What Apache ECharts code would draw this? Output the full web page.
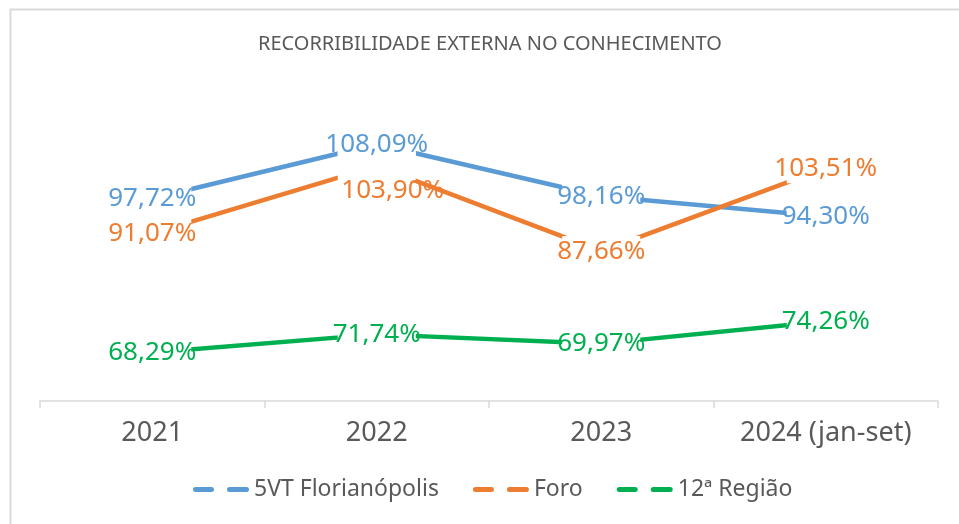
<!DOCTYPE html>
<html>
<head>
<meta charset="utf-8">
<script src="https://cdn.jsdelivr.net/npm/echarts@6/dist/echarts.min.js"></script>
<style>
  html, body { margin: 0; padding: 0; background: #fff; }
  #chart { width: 959px; height: 524px; }
</style>
</head>
<body>
<div id="chart"></div>
<script>
// dados
const categorias = ['2021', '2022', '2023', '2024 (jan-set)']
const vara = [97.72, 108.09, 98.16, 94.30]
const foro = [91.07, 103.90, 87.66, 103.51]
const regiao = [68.29, 71.74, 69.97, 74.26]
const nomes = ['5VT Florianópolis', 'Foro', '12ª Região']
const cores = ['#5B9BD5', '#ED7D31', '#00B050']

const fonte = '"Noto Sans", sans-serif'
const pct = p => p.value.toFixed(2).replace('.', ',') + '%'

function serie(i, dados) {
  return {
    name: nomes[i],
    type: 'line',
    data: dados,
    symbol: 'rect',
    symbolSize: [78, 30],
    itemStyle: { color: '#fff', borderWidth: 0 },
    lineStyle: { color: cores[i], width: 4.5, cap: 'butt' },
    emphasis: { disabled: true },
    label: {
      show: true,
      position: 'inside',
      color: cores[i],
      fontFamily: fonte,
      fontSize: 26,
      formatter: pct
    }
  }
}

const chart = echarts.init(document.getElementById('chart'))
const series = [serie(0, vara), serie(1, foro), serie(2, regiao)]
// rótulo de 2022 do foro deslocado
series[1].data = foro.map((v, k) => k === 1
  ? { value: v, label: { offset: [16, 24] } }
  : v)

const option = {
  animation: false,
  graphic: [{
    type: 'rect',
    left: 8, top: 7,
    shape: { width: 970, height: 540 },
    style: { fill: 'none', stroke: '#d9d9d9', lineWidth: 2 },
    silent: true
  }],
  title: {
    text: 'RECORRIBILIDADE EXTERNA NO CONHECIMENTO',
    left: 253,
    top: 29,
    textStyle: { color: '#595959', fontFamily: fonte, fontSize: 20, fontWeight: 'normal' }
  },
  legend: {
    bottom: 18,
    left: 188,
    itemGap: 34,
    itemWidth: 56,
    itemHeight: 5,
    icon: 'path://M2.5,0 H18.5 A2.5,2.5 0 0 1 18.5,5 H2.5 A2.5,2.5 0 0 1 2.5,0 Z M36.5,0 H53.5 A2.5,2.5 0 0 1 53.5,5 H36.5 A2.5,2.5 0 0 1 36.5,0 Z',
    textStyle: { color: '#595959', fontFamily: fonte, fontSize: 23 },
    data: nomes.map((n, i) => ({ name: n, itemStyle: { color: cores[i] } }))
  },
  grid: { left: 40, right: 21, top: 82, bottom: 123 },
  xAxis: {
    type: 'category',
    data: categorias,
    boundaryGap: true,
    axisLine: { lineStyle: { color: '#d9d9d9', width: 1.5 } },
    axisTick: { show: true, length: 7, lineStyle: { color: '#d9d9d9', width: 1.5 } },
    axisLabel: { color: '#595959', fontFamily: fonte, fontSize: 27, margin: 19 }
  },
  yAxis: {
    type: 'value',
    min: 59,
    max: 120,
    show: false
  },
  series: series
}
chart.setOption(option)
</script>
</body>
</html>
